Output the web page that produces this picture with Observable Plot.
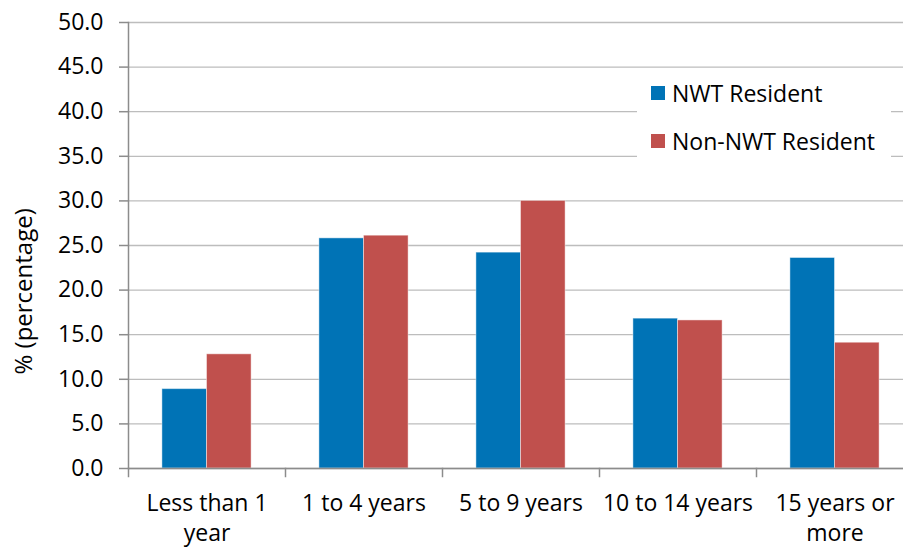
<!DOCTYPE html>
<html>
<head>
<meta charset="utf-8">
<script src="https://cdn.jsdelivr.net/npm/d3@7"></script>
<script src="https://cdn.jsdelivr.net/npm/@observablehq/plot@0.6"></script>
<style>
  html, body { margin: 0; padding: 0; background: #fff; }
  #chart { position: relative; width: 903px; height: 548px; font-family: "Open Sans", sans-serif; }
  #legend { position: absolute; left: 637px; top: 70px; width: 254px; height: 95px; background: #fff;
            box-sizing: border-box; padding-top: 9px; font-size: 23px; color: #000; }
  #legend .row { display: flex; align-items: center; height: 28px; margin-bottom: 20px; }
  #legend .sw { width: 14px; height: 14px; margin-left: 14px; margin-right: 7px; }
</style>
</head>
<body>
<div id="chart"></div>
<script>
// Length of residence in the NWT, by residency status (%)
const categories = ["Less than 1 year", "1 to 4 years", "5 to 9 years", "10 to 14 years", "15 years or more"];
const categoryLabels = ["Less than 1\nyear", "1 to 4 years", "5 to 9 years", "10 to 14 years", "15 years or\nmore"];
const series = ["NWT Resident", "Non-NWT Resident"];
const nwtResident = [8.9, 25.8, 24.2, 16.8, 23.6];
const nonNwtResident = [12.8, 26.1, 30.0, 16.6, 14.1];
const seriesColors = ["#0073b6", "#c0504d"];
const yTicks = [0, 5, 10, 15, 20, 25, 30, 35, 40, 45, 50];
const yTitle = "% (percentage)";

const rows = [];
categories.forEach((c, i) => {
  rows.push({category: c, series: series[0], value: nwtResident[i]});
  rows.push({category: c, series: series[1], value: nonNwtResident[i]});
});

const axisGray = "#8c8c8c";
const gridGray = "#bdbdbd";
const labelOf = new Map(categories.map((c, i) => [c, categoryLabels[i]]));

const chart = Plot.plot({
  width: 903,
  height: 548,
  marginLeft: 128,
  marginRight: -10.6,
  marginTop: 22,
  marginBottom: 80,
  style: {fontFamily: "Open Sans, sans-serif", fontSize: "23px", color: "#000", background: "#fff"},
  fx: {domain: categories, padding: 0, label: null},
  x: {domain: series, paddingInner: 0, paddingOuter: 0.76, axis: null, round: false},
  y: {domain: [0, 50], label: null},
  color: {domain: series, range: seriesColors},
  marks: [
    Plot.gridY(yTicks, {stroke: gridGray, strokeOpacity: 1, strokeWidth: 1.3}),
    Plot.barY(rows, {fx: "category", x: "series", y: "value", fill: "series",
                     stroke: "#fff", strokeOpacity: 0.45, strokeWidth: 1}),
    Plot.ruleY([0], {stroke: axisGray, strokeWidth: 1.5}),
    // y axis line on the leftmost panel
    Plot.frame({anchor: "left", facetAnchor: "left", stroke: axisGray, strokeWidth: 1.5}),
    // short category divider ticks below the baseline
    Plot.frame({anchor: "left", insetTop: 446, insetBottom: -8, stroke: axisGray, strokeWidth: 1.5}),
    Plot.axisY(yTicks, {tickFormat: d3.format(".1f"), tickSize: 9, tickPadding: 16,
                        stroke: axisGray, strokeWidth: 1.5, fontSize: 23, label: null}),
    Plot.axisFx({anchor: "bottom", tickSize: 0, tickPadding: 21, tickFormat: d => labelOf.get(d),
                 lineHeight: 1.3, fontSize: 23, label: null}),
    Plot.text([yTitle], {text: d => d, frameAnchor: "left", facetAnchor: "left", rotate: -90,
                         dx: -104, dy: 129, fontSize: 24, fill: "#000"})
  ]
});

const root = document.getElementById("chart");
root.appendChild(chart);

// Legend drawn over the upper-right of the plot area
const legend = d3.select(root).append("div").attr("id", "legend");
series.forEach((s, i) => {
  const row = legend.append("div").attr("class", "row");
  row.append("div").attr("class", "sw").style("background", seriesColors[i]);
  row.append("span").text(s);
});
</script>
</body>
</html>
